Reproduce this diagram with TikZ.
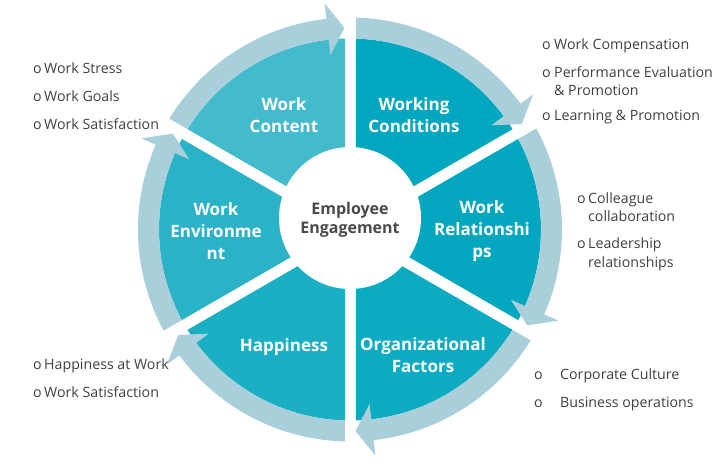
\documentclass[tikz,border=0pt]{standalone}
\usepackage{fontspec}
\setmainfont{Open Sans}
\definecolor{ringcol}{HTML}{A9CFDA}
\definecolor{cA}{HTML}{44BBCC}
\definecolor{cB}{HTML}{01A6BF}
\definecolor{cC}{HTML}{02A7BF}
\definecolor{cD}{HTML}{0CABC1}
\definecolor{cE}{HTML}{1AAFC2}
\definecolor{cF}{HTML}{2AB3C7}
\definecolor{txtcol}{HTML}{404040}
\definecolor{midcol}{HTML}{4A4A4A}
\newcommand\sectorfill[3]{\fill[#1] (0,0) -- ({-#2}:191) arc[start angle={-#2}, end angle={-#3}, radius=191] -- cycle;}
\newcommand\ringarrow[2]{\fill[ringcol] ({-#1}:212) arc[start angle={-#1}, end angle={-(#2+6.4)}, radius=212] -- ({-(#2+6.4)}:227.5) -- ({-(#2+1.56)}:201.5) -- ({-(#2+6.4)}:175.5) -- ({-(#2+6.4)}:191) arc[start angle={-(#2+6.4)}, end angle={-#1}, radius=191] -- cycle;}
\begin{document}
\begin{tikzpicture}[x=1pt,y=-1pt,
  lab/.style={text=white, font=\bfseries\fontsize{17}{22}\selectfont, align=center, inner sep=0pt},
  mid/.style={text=midcol, font=\bfseries\fontsize{16}{19}\selectfont, align=center, inner sep=0pt},
  bul/.style={text=txtcol, font=\fontsize{14.2}{16}\selectfont, anchor=base west, inner sep=0pt},
  spoke/.style={draw=white, line width=11pt}]
\useasboundingbox (0,0) rectangle (726,466);
\begin{scope}[shift={(350,229.5)}]
  \sectorfill{cA}{90}{150}
  \sectorfill{cB}{30}{90}
  \sectorfill{cC}{-30}{30}
  \sectorfill{cD}{-90}{-30}
  \sectorfill{cE}{-150}{-90}
  \sectorfill{cF}{150}{210}
  \ringarrow{150}{90}
  \ringarrow{90}{30}
  \ringarrow{30}{-30}
  \ringarrow{-30}{-90}
  \ringarrow{-90}{-150}
  \ringarrow{210}{150}
  \coordinate (c0) at (0,0);
  \foreach \a in {90,30,-30,-90,-150,150}{
    \coordinate (s\a) at ({-\a}:216);
    \draw[spoke] (c0) -- (s\a);
  }
\end{scope}
\fill[white] (350,218) circle[radius=71];
\node[mid] (ee) at (350,219.5) {Employee\\Engagement};
\node[lab] (wc) at (284,115) {Work\\Content};
\node[lab] (wcd) at (414,115) {Working\\Conditions};
\node[lab] (wr) at (482,231) {Work\\Relationshi\\ps};
\node[lab] (we) at (216,231) {Work\\Environme\\nt};
\node[lab] (hp) at (284,347) {Happiness};
\node[lab] (of) at (423,355) {Organizational\\Factors};
% left top
\node[bul] (b1) at (33,73) {o};  \node[bul] (t1) at (44,73) {Work Stress};
\node[bul] (b2) at (33,101) {o}; \node[bul] (t2) at (44,101) {Work Goals};
\node[bul] (b3) at (33,129) {o}; \node[bul] (t3) at (44,129) {Work Satisfaction};
% left bottom
\node[bul] (b4) at (33,369) {o}; \node[bul] (t4) at (44,369) {Happiness at Work};
\node[bul] (b5) at (33,397) {o}; \node[bul] (t5) at (44,397) {Work Satisfaction};
% right top
\node[bul] (b6) at (542,49) {o}; \node[bul] (t6) at (554,49) {Work Compensation};
\node[bul] (b7) at (542,77) {o}; \node[bul] (t7) at (554,77) {Performance Evaluation};
\node[bul] (t7b) at (554,95) {\& Promotion};
\node[bul] (b8) at (542,120) {o}; \node[bul] (t8) at (554,120) {Learning \& Promotion};
% right middle
\node[bul] (b9) at (577,203) {o}; \node[bul] (t9) at (588,203) {Colleague};
\node[bul] (t9b) at (588,221) {collaboration};
\node[bul] (b10) at (577,248) {o}; \node[bul] (t10) at (588,248) {Leadership};
\node[bul] (t10b) at (588,267) {relationships};
% right bottom
\node[bul] (b11) at (534,379) {o}; \node[bul] (t11) at (560,379) {Corporate Culture};
\node[bul] (b12) at (534,407) {o}; \node[bul] (t12) at (560,407) {Business operations};
\end{tikzpicture}
\end{document}
